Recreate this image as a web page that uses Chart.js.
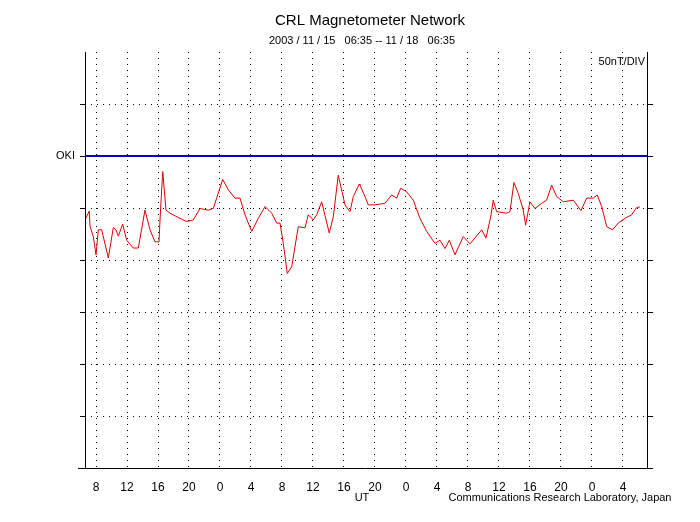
<!DOCTYPE html>
<html><head><meta charset="utf-8">
<script src="https://cdn.jsdelivr.net/npm/chart.js@4"></script>
<style>html,body{margin:0;padding:0;background:#fff}</style>
</head><body><canvas id="c" width="700" height="522" style="width:700px;height:522px"></canvas>
<script>
// hours since 2003/11/15 06:35 UT
const hours=[0,0.55,0.65,1.07,1.42,1.72,2.15,3.01,3.65,4.0,4.30,4.86,5.38,6.23,6.88,7.74,8.39,9.03,9.55,9.68,10.03,10.45,10.97,12.26,13.12,13.97,14.84,15.91,16.55,16.99,17.77,18.49,19.35,20.0,20.65,21.51,22.36,23.23,24.09,24.74,25.16,25.59,26.10,26.67,27.52,28.39,28.81,29.46,29.90,30.54,31.52,32.04,32.68,33.55,34.19,34.62,35.39,35.48,36.13,36.55,37.42,38.71,39.57,40.22,40.74,41.51,42.36,43.23,44.09,45.16,45.81,46.45,47.01,47.74,48.81,49.68,51.19,51.74,52.35,52.68,53.12,54.41,54.84,55.35,55.91,56.55,56.86,57.42,58.06,58.93,59.57,60.22,60.86,61.72,63.01,64.0,64.74,65.59,66.10,66.67,67.32,68.09,68.81,69.68,70.54,71.19,71.61];
// OKI H-component in divisions (50 nT/DIV)
const okiValues=[4.77,4.94,4.65,4.45,4.10,4.58,4.58,4.04,4.62,4.58,4.46,4.69,4.38,4.23,4.23,4.96,4.58,4.35,4.35,4.77,5.70,4.96,4.90,4.80,4.74,4.77,4.99,4.96,4.99,5.19,5.55,5.35,5.19,5.19,4.87,4.55,4.80,5.03,4.90,4.71,4.71,4.32,3.74,3.87,4.64,4.62,4.87,4.77,4.87,5.12,4.52,4.83,5.63,5.06,4.93,5.22,5.46,5.44,5.22,5.06,5.06,5.09,5.25,5.19,5.38,5.31,5.15,4.80,4.55,4.32,4.38,4.22,4.38,4.10,4.45,4.31,4.58,4.42,4.83,5.15,4.93,4.90,4.93,5.49,5.28,4.96,4.67,5.12,4.99,5.09,5.15,5.44,5.22,5.12,5.15,4.95,5.19,5.19,5.25,5.03,4.64,4.58,4.71,4.80,4.87,5.01,5.02];
const baseline=6;
const tickHours=[1.42,5.42,9.42,13.42,17.42,21.42,25.42,29.42,33.42,37.42,41.42,45.42,49.42,53.42,57.42,61.42,65.42,69.42];
const tickLabels=['8','12','16','20','0','4','8','12','16','20','0','4','8','12','16','20','0','4'];
const xMax=72.65;
const F='"Liberation Sans"';

const pts=hours.map((h,i)=>({x:h,y:okiValues[i]}));
const frame={id:'frame',afterDraw(c){
  const g=c.ctx,a=c.chartArea,ys=c.scales.y;
  g.save();g.strokeStyle='#000';g.lineWidth=1;g.setLineDash([]);
  g.beginPath();g.moveTo(a.left+0.5,a.top);g.lineTo(a.left+0.5,a.bottom);
  g.moveTo(a.right-0.5,a.top);g.lineTo(a.right-0.5,a.bottom);
  g.moveTo(78,a.bottom+0.5);g.lineTo(653,a.bottom+0.5);
  for(let v=1;v<=7;v++){const y=Math.round(ys.getPixelForValue(v))+0.5;
    g.moveTo(a.left-5,y);g.lineTo(a.left,y);g.moveTo(a.right,y);g.lineTo(a.right+5,y);}
  g.stroke();
  g.fillStyle='#000';g.textAlign='center';g.textBaseline='middle';
  g.font='15px '+F;g.fillText('CRL Magnetometer Network',370,21);
  g.font='11px '+F;g.fillText('2003 / 11 / 15   06:35 -- 11 / 18   06:35',362,41);
  g.fillText('UT',362,498);
  g.fillText('Communications Research Laboratory, Japan',560,498);
  g.textAlign='right';g.fillText('50nT/DIV',645,62);
  g.fillText('OKI',75,156);
  g.restore();}};
new Chart(document.getElementById('c'),{type:'scatter',
 data:{datasets:[
  {data:[{x:0,y:baseline},{x:xMax,y:baseline}],showLine:true,borderColor:'#0000c0',borderWidth:2,pointRadius:0},
  {data:pts,showLine:true,borderColor:'#e00000',borderWidth:1,pointRadius:0,tension:0}]},
 options:{responsive:false,animation:false,maintainAspectRatio:false,devicePixelRatio:1,
  layout:{padding:{left:85,right:52,top:52,bottom:0}},
  plugins:{legend:{display:false},tooltip:{enabled:false}},
  scales:{
   x:{type:'linear',min:0,max:xMax,
    afterBuildTicks:s=>{s.ticks=tickHours.map(v=>({value:v}));},
    afterFit:s=>{s.height=54;},
    border:{display:false,dash:[1,5]},
    grid:{color:'#000',drawTicks:false,lineWidth:1},
    ticks:{padding:12,maxRotation:0,autoSkip:false,color:'#000',font:{family:'Liberation Sans',size:12},
      callback:(v,i)=>tickLabels[i]}},
   y:{min:0,max:8,afterFit:s=>{s.width=0;},
    border:{display:false,dash:[1,5]},
    afterBuildTicks:s=>{s.ticks=[1,2,3,4,5,6,7].map(v=>({value:v}));},
    grid:{color:'#000',drawTicks:false},
    ticks:{display:false}}}},
 plugins:[frame]});
</script></body></html>
